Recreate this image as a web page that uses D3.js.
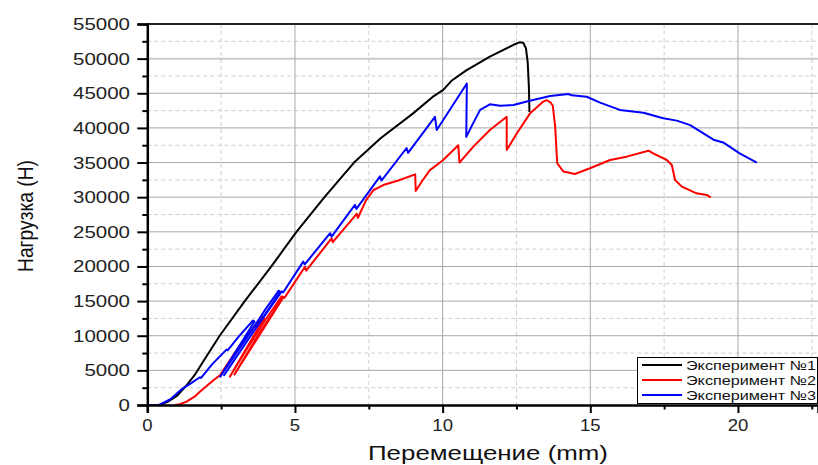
<!DOCTYPE html>
<html>
<head>
<meta charset="utf-8">
<script src="https://cdn.jsdelivr.net/npm/d3@7"></script>
<style>
  body { margin: 0; background: #fff; }
  svg { display: block; font-family: "Liberation Sans", Arial, sans-serif; }
</style>
</head>
<body>
<svg id="chart" width="818" height="465"></svg>
<script>
// Series values: [displacement mm, load N]
var exp1 = [[0.43,0],[0.7,500],[1.0,1300],[1.3,2700],[1.6,4300],[2.0,7000],[2.45,10000],
    [3.3,15000],[4.2,20000],[5.05,25000],[6.0,30000],[7.0,35000],[7.9,38500],[9.0,42100],
    [9.7,44600],[10.02,45500],[10.3,46800],[10.8,48300],[11.6,50300],[12.4,52000],[12.6,52350],
    [12.73,52300],[12.82,51500],[12.88,49500],[12.92,46000],[12.94,42300]];

var exp2 = [[0.94,0],[1.1,100],[1.33,480],[1.6,1200],[1.78,1900],[2.05,2900],[2.25,3600],
    [2.46,4300],[3.1,8400],[3.9,12800],[3.95,12500],[2.8,4100],[3.4,8300],[4.0,12300],
    [4.55,15700],[4.6,15500],[2.95,4400],[3.8,10400],[4.6,15600],[4.65,15500],[5.34,19950],
    [5.38,19400],[6.24,24060],[6.28,23500],[7.09,27600],[7.13,27000],[7.4,29500],[7.65,31000],
    [7.99,31750],[8.5,32400],[9.07,33300],[9.09,30900],[9.3,32300],[9.57,33900],[10.0,35300],
    [10.53,37500],[10.57,35000],[11.04,37300],[11.6,39700],[12.17,41600],[12.17,36800],
    [12.51,39200],[12.96,42100],[13.41,43800],[13.52,44000],[13.65,43700],[13.73,43200],
    [13.81,40200],[13.88,34900],[14.09,33700],[14.48,33350],[14.99,34170],[15.67,35370],
    [16.23,35850],[16.97,36710],[17.13,36330],[17.59,35370],[17.76,34650],[17.87,32480],
    [18.1,31520],[18.6,30560],[18.94,30320],[19.08,29980]];

var exp3 = [[0,0],[0.4,0],[0.8,900],[1.2,2400],[1.5,3200],[1.78,4000],[1.82,3900],[2.2,5900],
    [2.68,8000],[2.72,7900],[3.1,9900],[3.58,12200],[3.63,12050],[2.47,4100],[3.0,7400],
    [3.6,11200],[4.0,13800],[4.45,16500],[4.5,16300],[2.6,4300],[3.5,10000],[4.55,16400],
    [4.6,16250],[5.28,20700],[5.33,20300],[6.19,24800],[6.24,24300],[7.03,28900],[7.08,28300],
    [7.88,33000],[7.93,32400],[8.78,37100],[8.83,36400],[9.74,41600],[9.8,39700],[10.82,46400],
    [10.8,38700],[11.0,40400],[11.27,42600],[11.6,43400],[11.94,43200],[12.4,43300],
    [12.85,43800],[13.64,44600],[14.26,44900],[14.37,44700],[14.88,44500],[15.33,43650],
    [16.0,42600],[16.8,42200],[17.47,41400],[17.93,41050],[18.38,40400],[19.17,38300],
    [19.5,37900],[20.07,36300],[20.64,35000]];

var seriesNames = ["Эксперимент №1", "Эксперимент №2", "Эксперимент №3"];
var seriesColors = ["#000000", "#ff0000", "#0000ff"];
var xTickLabels = [0, 5, 10, 15, 20];
var yTickLabels = [0, 5000, 10000, 15000, 20000, 25000, 30000, 35000, 40000, 45000, 50000, 55000];

var svg = d3.select("#chart"),
    plotLeft = 147.3,
    plotRight = 818,
    plotTop = 24,
    plotBottom = 405;

var x = d3.scaleLinear().domain([0, 22.71]).range([plotLeft, plotRight]);
var y = d3.scaleLinear().domain([0, 55000]).range([plotBottom, plotTop]);

svg.append("rect").attr("width", 818).attr("height", 465).attr("fill", "#fff");

// Grid: minor dashed, major solid
var minorX = d3.range(2.5, 22.6, 5),
    majorX = d3.range(5, 22.6, 5),
    minorY = d3.range(2500, 55000, 5000),
    majorY = d3.range(5000, 55001, 5000);

var grid = svg.append("g");
grid.selectAll(".mx").data(minorX).enter().append("line")
    .attr("x1", function(d) { return x(d); }).attr("x2", function(d) { return x(d); })
    .attr("y1", plotTop).attr("y2", plotBottom)
    .attr("stroke", "#cfcfcf").attr("stroke-dasharray", "4,3");
grid.selectAll(".my").data(minorY).enter().append("line")
    .attr("y1", function(d) { return y(d); }).attr("y2", function(d) { return y(d); })
    .attr("x1", plotLeft).attr("x2", plotRight)
    .attr("stroke", "#cfcfcf").attr("stroke-dasharray", "4,3");
grid.selectAll(".Mx").data(majorX).enter().append("line")
    .attr("x1", function(d) { return x(d); }).attr("x2", function(d) { return x(d); })
    .attr("y1", plotTop).attr("y2", plotBottom)
    .attr("stroke", "#a8a8a8");
grid.selectAll(".My").data(majorY).enter().append("line")
    .attr("y1", function(d) { return y(d); }).attr("y2", function(d) { return y(d); })
    .attr("x1", plotLeft).attr("x2", plotRight)
    .attr("stroke", "#a8a8a8").attr("stroke-width", function(d) { return d === 50000 ? 2 : 1; })
    .attr("stroke-opacity", function(d) { return d === 50000 ? 0.6 : 1; });

// Curves
var line = d3.line()
    .x(function(d) { return x(d[0]); })
    .y(function(d) { return y(d[1]); });

[exp1, exp2, exp3].forEach(function(s, i) {
    svg.append("path")
        .datum(s)
        .attr("d", line)
        .attr("fill", "none")
        .attr("stroke", seriesColors[i])
        .attr("stroke-width", 2)
        .attr("stroke-linejoin", "round");
});

// Frame top line
svg.append("line").attr("x1", plotLeft).attr("x2", plotRight).attr("y1", plotTop).attr("y2", plotTop)
    .attr("stroke", "#222").attr("stroke-width", 2);

// Axes
var xAxis = svg.append("g").attr("transform", "translate(0," + plotBottom + ")")
    .call(d3.axisBottom(x).tickValues(d3.range(0, 22.6, 2.5)).tickSize(8).tickFormat(""));
xAxis.select(".domain").attr("stroke-width", 2.5);
xAxis.selectAll(".tick line").attr("stroke-width", 2)
    .attr("y2", function(d) { return d % 5 === 0 ? 8 : 4.5; });

var yAxis = svg.append("g").attr("transform", "translate(" + plotLeft + ",0)")
    .call(d3.axisLeft(y).tickValues(d3.range(0, 55001, 2500)).tickSize(10).tickFormat(""));
yAxis.select(".domain").attr("stroke-width", 2.5);
yAxis.selectAll(".tick line").attr("stroke-width", 2)
    .attr("x2", function(d) { return d % 5000 === 0 ? -10 : -5; });

// Tick labels (stretched wide like the source)
svg.selectAll(".xl").data(xTickLabels).enter().append("text")
    .attr("x", function(d) { return x(d); })
    .attr("y", 431)
    .attr("text-anchor", "middle")
    .attr("font-size", 16)
    .attr("fill", "#222")
    .attr("textLength", function(d) { return String(d).length * 10.3; })
    .attr("lengthAdjust", "spacingAndGlyphs")
    .text(function(d) { return d; });

svg.selectAll(".yl").data(yTickLabels).enter().append("text")
    .attr("x", 130)
    .attr("y", function(d) { return y(d) + 6; })
    .attr("text-anchor", "end")
    .attr("font-size", 16.5)
    .attr("fill", "#222")
    .attr("textLength", function(d) { return String(d).length * 11.4; })
    .attr("lengthAdjust", "spacingAndGlyphs")
    .text(function(d) { return d; });

// Axis titles
svg.append("text")
    .attr("x", 488).attr("y", 460)
    .attr("text-anchor", "middle")
    .attr("font-size", 21)
    .attr("fill", "#111")
    .attr("textLength", 240)
    .attr("lengthAdjust", "spacingAndGlyphs")
    .text("Перемещение (mm)");

svg.append("text")
    .attr("transform", "translate(33,216) rotate(-90)")
    .attr("text-anchor", "middle")
    .attr("font-size", 22)
    .attr("fill", "#111")
    .attr("textLength", 112)
    .attr("lengthAdjust", "spacingAndGlyphs")
    .text("Нагрузка (Н)");

// Legend
var legend = svg.append("g");
legend.append("rect")
    .attr("x", 637.5).attr("y", 357.5)
    .attr("width", 180).attr("height", 46)
    .attr("fill", "#fff").attr("stroke", "#000").attr("stroke-width", 1);

var entries = legend.selectAll(".entry").data(seriesNames).enter().append("g");
entries.append("line")
    .attr("x1", 642).attr("x2", 682)
    .attr("y1", function(d, i) { return 365 + i * 15; })
    .attr("y2", function(d, i) { return 365 + i * 15; })
    .attr("stroke", function(d, i) { return seriesColors[i]; })
    .attr("stroke-width", 2);
entries.append("text")
    .attr("x", 686)
    .attr("y", function(d, i) { return 369.5 + i * 15; })
    .attr("font-size", 13)
    .attr("fill", "#111")
    .attr("textLength", 130)
    .attr("lengthAdjust", "spacingAndGlyphs")
    .text(function(d) { return d; });
</script>
</body>
</html>
